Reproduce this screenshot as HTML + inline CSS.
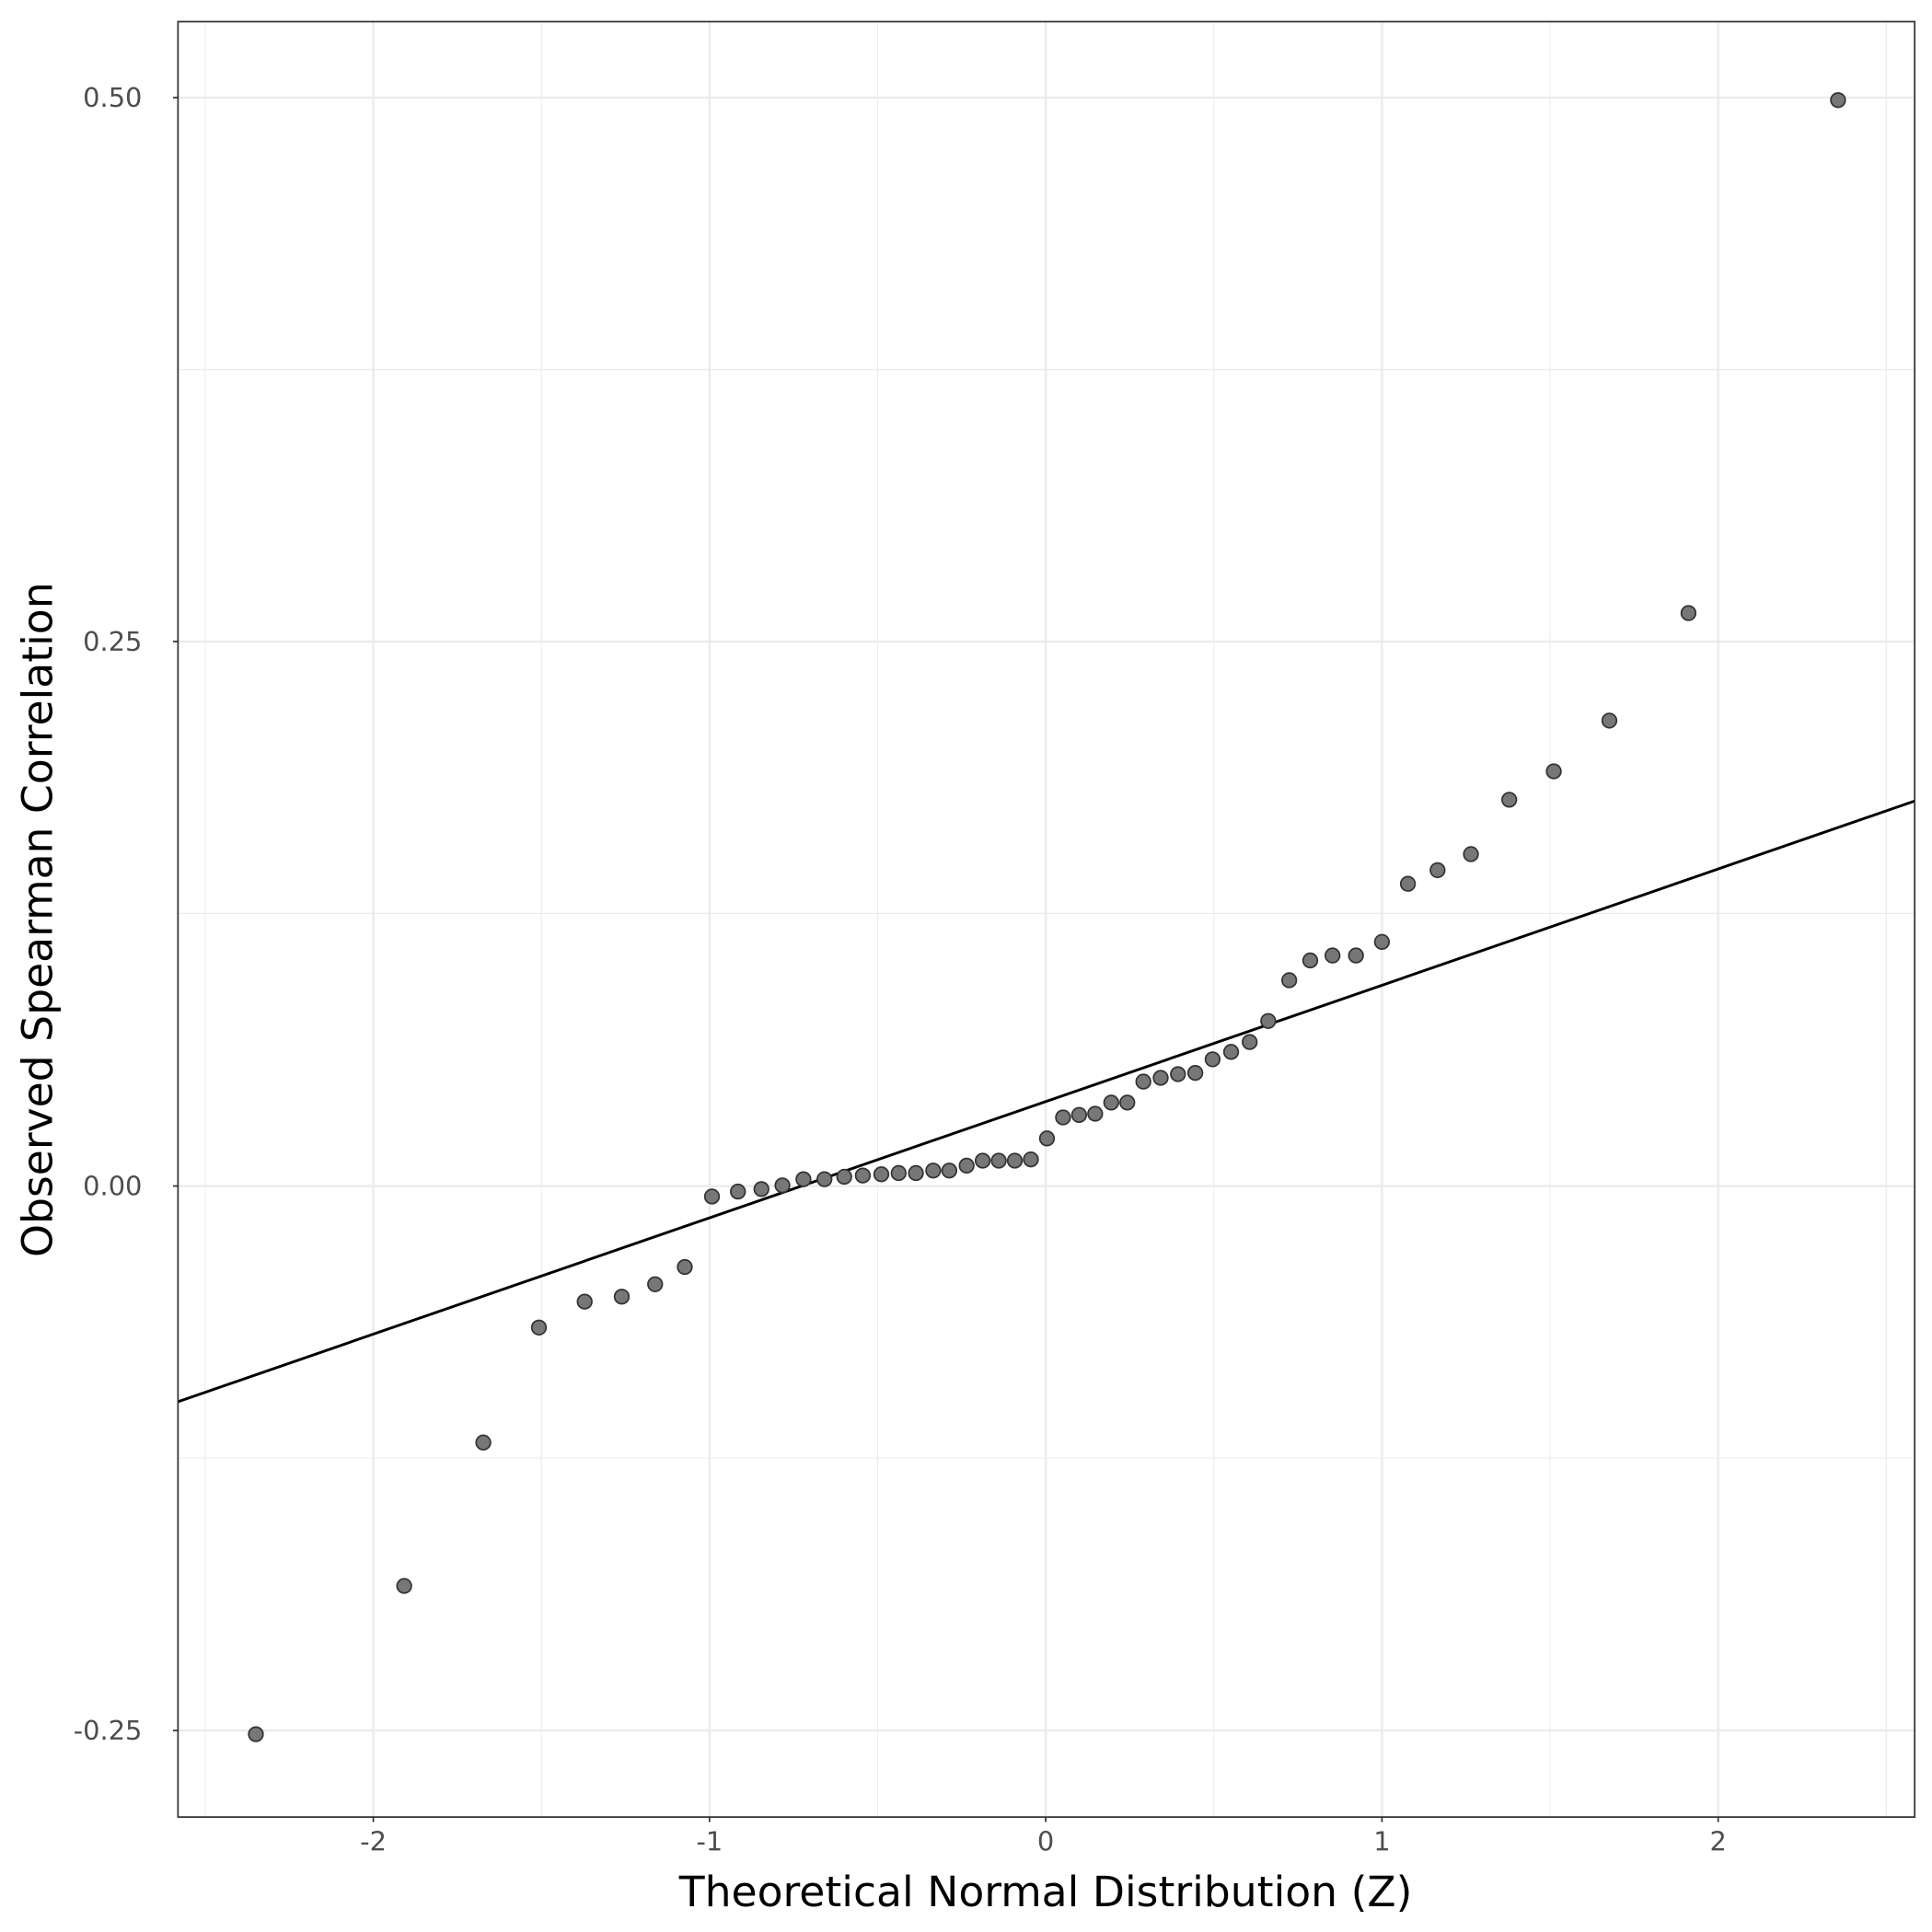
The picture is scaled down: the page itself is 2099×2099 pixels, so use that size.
<!DOCTYPE html>
<html><head><meta charset="utf-8"><style>html,body{margin:0;padding:0;background:#fff}svg{display:block}</style></head>
<body>
<svg id="s" width="2099" height="2099" viewBox="0 0 1563 1563" xmlns="http://www.w3.org/2000/svg" font-family="'DejaVu Sans','Liberation Sans',sans-serif">
<rect width="1563" height="1563" fill="#fff"/>
<g stroke="#ebebeb" stroke-width="0.8">
<line x1="166" y1="17.5" x2="166" y2="1470"/><line x1="438" y1="17.5" x2="438" y2="1470"/><line x1="710" y1="17.5" x2="710" y2="1470"/><line x1="982" y1="17.5" x2="982" y2="1470"/><line x1="1254" y1="17.5" x2="1254" y2="1470"/><line x1="1526" y1="17.5" x2="1526" y2="1470"/>
<line x1="144" y1="299" x2="1549" y2="299"/><line x1="144" y1="739" x2="1549" y2="739"/><line x1="144" y1="1179.5" x2="1549" y2="1179.5"/>
</g>
<g stroke="#ebebeb" stroke-width="1.8">
<line x1="302" y1="17.5" x2="302" y2="1470"/><line x1="574" y1="17.5" x2="574" y2="1470"/><line x1="846" y1="17.5" x2="846" y2="1470"/><line x1="1118" y1="17.5" x2="1118" y2="1470"/><line x1="1390" y1="17.5" x2="1390" y2="1470"/>
<line x1="144" y1="79" x2="1549" y2="79"/><line x1="144" y1="519" x2="1549" y2="519"/><line x1="144" y1="959.5" x2="1549" y2="959.5"/><line x1="144" y1="1400" x2="1549" y2="1400"/>
</g>
<line x1="144" y1="1134" x2="1549" y2="648" stroke="#000" stroke-width="2.2"/>
<g id="pts" fill="#777" stroke="#333" stroke-width="1.3"></g>
<rect x="144" y="17.5" width="1405" height="1452.5" fill="none" stroke="#333" stroke-width="1.3"/>
<g stroke="#333" stroke-width="1.3">
<line x1="140" y1="79" x2="144" y2="79"/><line x1="140" y1="519" x2="144" y2="519"/><line x1="140" y1="959.5" x2="144" y2="959.5"/><line x1="140" y1="1400" x2="144" y2="1400"/>
<line x1="302" y1="1470" x2="302" y2="1474"/><line x1="574" y1="1470" x2="574" y2="1474"/><line x1="846" y1="1470" x2="846" y2="1474"/><line x1="1118" y1="1470" x2="1118" y2="1474"/><line x1="1390" y1="1470" x2="1390" y2="1474"/>
</g>
<g fill="#4d4d4d" font-size="21.5" text-anchor="end">
<text x="115" y="86.5">0.50</text><text x="115" y="526.5">0.25</text><text x="115" y="967">0.00</text><text x="115" y="1407.5">-0.25</text>
</g>
<g fill="#4d4d4d" font-size="21.5" text-anchor="middle">
<text x="302" y="1497">-2</text><text x="574" y="1497">-1</text><text x="846" y="1497">0</text><text x="1118" y="1497">1</text><text x="1390" y="1497">2</text>
</g>
<text x="846" y="1542" font-size="34" text-anchor="middle" fill="#000">Theoretical Normal Distribution (Z)</text>
<text transform="translate(42,744) rotate(-90)" font-size="34" text-anchor="middle" fill="#000">Observed Spearman Correlation</text>
</svg>
<script>
var p=[[207,1404],[327,1284],[391,1168],[436,1075],[473,1054],[503,1050],[530,1040],[554,1026],[576,969],[597,965],[616,963],[633,960],[650,955],[667,955],[683,953],[698,952],[713,951],[727,950],[741,950],[755,948],[768,948],[782,944],[795,940],[808,940],[821,940],[834,939],[847,922],[860,905],[873,903],[886,902],[899,893],[912,893],[925,876],[939,873],[953,870],[967,869],[981,858],[996,852],[1011,844],[1026,827],[1043,794],[1060,778],[1078,774],[1097,774],[1118,763],[1139,716],[1163,705],[1190,692],[1221,648],[1257,625],[1302,584],[1366,497],[1487,82]];
var g=document.getElementById('pts'),h='';
p.forEach(function(a){h+='<circle cx="'+a[0]+'" cy="'+(a[1]-1)+'" r="5.8"/>';});
g.innerHTML=h;
</script>
</body></html>
